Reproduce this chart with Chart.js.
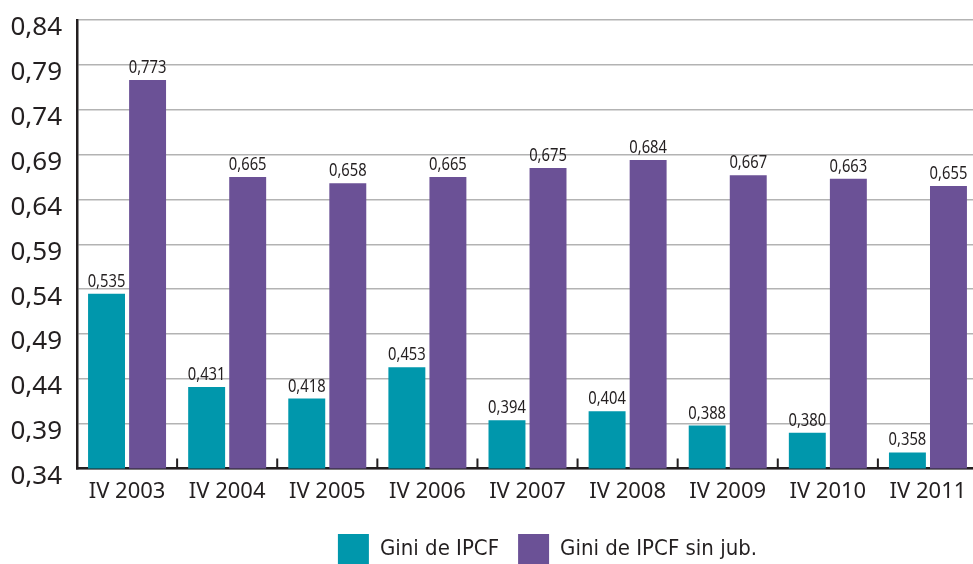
<!DOCTYPE html>
<html>
<head>
<meta charset="utf-8">
<script src="https://cdn.jsdelivr.net/npm/chart.js@4.4.0/dist/chart.umd.min.js"></script>
<style>
  html, body { margin: 0; padding: 0; background: #fff; overflow: hidden; }
  #wrap { width: 1084px; height: 575px; }
</style>
</head>
<body>
<div id="wrap"><canvas id="giniChart"></canvas></div>
<script>
// Gini por trimestre (IV de cada año)
const categories = ['IV 2003', 'IV 2004', 'IV 2005', 'IV 2006', 'IV 2007', 'IV 2008', 'IV 2009', 'IV 2010', 'IV 2011'];
const giniIpcf = [0.535, 0.431, 0.418, 0.453, 0.394, 0.404, 0.388, 0.380, 0.358];
const giniSinJub = [0.773, 0.665, 0.658, 0.665, 0.675, 0.684, 0.667, 0.663, 0.655];
const yTicks = [0.34, 0.39, 0.44, 0.49, 0.54, 0.59, 0.64, 0.69, 0.74, 0.79, 0.84];

const INK = '#231f20';
const CONDENSED = '"DejaVu Sans Condensed", sans-serif';

function fmt(v, d) {
    return v.toFixed(d).replace('.', ',');
}

// value above each bar, squeezed a bit to look condensed
const valueLabels = {
    id: 'valueLabels',
    afterDatasetsDraw(chart) {
        const ctx = chart.ctx;
        const squeeze = 0.82;
        ctx.save();
        ctx.font = '18px "Noto Sans", sans-serif';
        ctx.fillStyle = INK;
        ctx.textAlign = 'center';
        ctx.textBaseline = 'alphabetic';
        chart.data.datasets.forEach((ds, i) => {
            chart.getDatasetMeta(i).data.forEach((bar, j) => {
                ctx.save();
                ctx.translate(bar.x, bar.y - 7);
                ctx.scale(squeeze, 1);
                ctx.fillText(fmt(ds.data[j], 3), 0, 0);
                ctx.restore();
            });
        });
        ctx.restore();
    }
};

// short ticks between categories, pointing up from the x axis
const catTicks = {
    id: 'catTicks',
    afterDraw(chart) {
        const ctx = chart.ctx;
        const x = chart.scales.x;
        const y0 = chart.chartArea.bottom;
        ctx.save();
        ctx.strokeStyle = INK;
        ctx.lineWidth = 2;
        ctx.beginPath();
        for (let i = 1; i < categories.length; i++) {
            const px = (x.getPixelForValue(i - 1) + x.getPixelForValue(i)) / 2;
            ctx.moveTo(px, y0);
            ctx.lineTo(px, y0 - 10);
        }
        ctx.stroke();
        ctx.restore();
    }
};

new Chart(document.getElementById('giniChart'), {
    type: 'bar',
    data: {
        labels: categories,
        datasets: [{
            label: 'Gini de IPCF',
            data: giniIpcf,
            backgroundColor: '#0097ac',
            categoryPercentage: 0.82,
            barPercentage: 0.9
        }, {
            label: 'Gini de IPCF sin jub.',
            data: giniSinJub,
            backgroundColor: '#6b5196',
            categoryPercentage: 0.82,
            barPercentage: 0.9
        }]
    },
    options: {
        responsive: true,
        maintainAspectRatio: false,
        animation: false,
        layout: { padding: { top: 20, left: 11, right: 0, bottom: 0 } },
        plugins: {
            tooltip: { enabled: false },
            legend: {
                position: 'bottom',
                labels: {
                    boxWidth: 31,
                    boxHeight: 31,
                    padding: 19,
                    color: INK,
                    font: { family: CONDENSED, size: 22 }
                }
            }
        },
        scales: {
            x: {
                grid: { drawOnChartArea: false, drawTicks: false },
                border: { color: INK, width: 2.5 },
                ticks: {
                    color: INK,
                    padding: 10,
                    font: { family: '"Noto Sans", sans-serif', size: 22 }
                }
            },
            y: {
                min: 0.34,
                max: 0.84,
                afterBuildTicks(scale) {
                    scale.ticks = yTicks.map(v => ({ value: v }));
                },
                afterFit(scale) {
                    scale.width = 66;
                    scale.paddingTop = 0;
                    scale.paddingBottom = 0;
                },
                grid: { color: '#b3b3b3', lineWidth: 1.5, drawTicks: false },
                border: { color: INK, width: 2.5 },
                ticks: {
                    color: INK,
                    padding: 15,
                    labelOffset: 8,
                    font: { family: '"Noto Sans", sans-serif', size: 26 },
                    callback: v => fmt(v, 2)
                }
            },
            // empty spacer on the right, keeps the legend centred like the original
            spacer: {
                position: 'right',
                grid: { display: false },
                border: { display: false },
                ticks: { display: false },
                afterFit(scale) { scale.width = 106; }
            }
        }
    },
    plugins: [valueLabels, catTicks]
});
</script>
</body>
</html>
